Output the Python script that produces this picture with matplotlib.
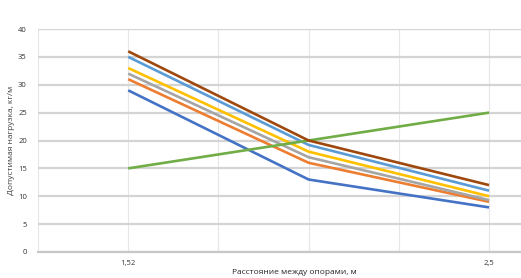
import numpy as np
import matplotlib.pyplot as plt

# Данные с графика
x_labels = ['1,52', '', '2,5']
s1 = [29, 13, 8]     # синяя
s2 = [31, 16, 9]     # оранжевая
s3 = [32, 17, 9.3]   # серая
s4 = [33, 18, 10]    # жёлтая
s5 = [35, 19.2, 11]  # голубая
s6 = [15, 20, 25]    # зелёная
s7 = [36, 20, 12]    # коричневая

series = [s1, s2, s3, s4, s5, s6, s7]
colors = ['#4472C4', '#ED7D31', '#A5A5A5', '#FFC000', '#5B9BD5', '#70AD47', '#9E480E']

plt.rcParams['font.family'] = ['Open Sans', 'DejaVu Sans']

fig = plt.figure(figsize=(5.21, 2.78), dpi=100)
ax = fig.add_axes([38/521, 26/278, 1 - 38/521, (252-29)/278])

x = np.arange(len(x_labels))
for ys, c in zip(series, colors):
    ax.plot(x, ys, color=c, linewidth=1.9, solid_capstyle='butt')

ax.set_yticks(np.arange(0, 41, 5))
ax.set_xticks(x)
ax.set_xticklabels(x_labels)
ax.set_xticks(np.arange(-0.5, 2.6, 0.5), minor=True)
# пределы после тиков, иначе set_xticks расширяет ось
ax.set_xlim(-0.5, 2.177)
ax.set_ylim(0, 40)

ax.grid(axis='y', color='#d4d4d4', linewidth=1.6)
ax.grid(axis='x', which='both', color='#e6e6e6', linewidth=0.8)
ax.set_axisbelow(True)

for s in ['top', 'right', 'left']:
    ax.spines[s].set_visible(False)
ax.spines['bottom'].set_color('#c8c8c8')
ax.spines['bottom'].set_linewidth(1.6)

ax.tick_params(axis='both', which='both', length=0, labelsize=5.5, colors='#333333')
ax.tick_params(axis='y', pad=8)
ax.tick_params(axis='x', pad=6)

ax.set_xlabel('Расстояние между опорами, м', fontsize=6, color='#262626', labelpad=2)
ax.set_ylabel('Допустимая нагрузка, кг/м', fontsize=6, color='#404040', labelpad=2)
ax.xaxis.set_label_coords((294-38)/(521-38), -0.075)

fig.savefig('out.png', dpi=100)
